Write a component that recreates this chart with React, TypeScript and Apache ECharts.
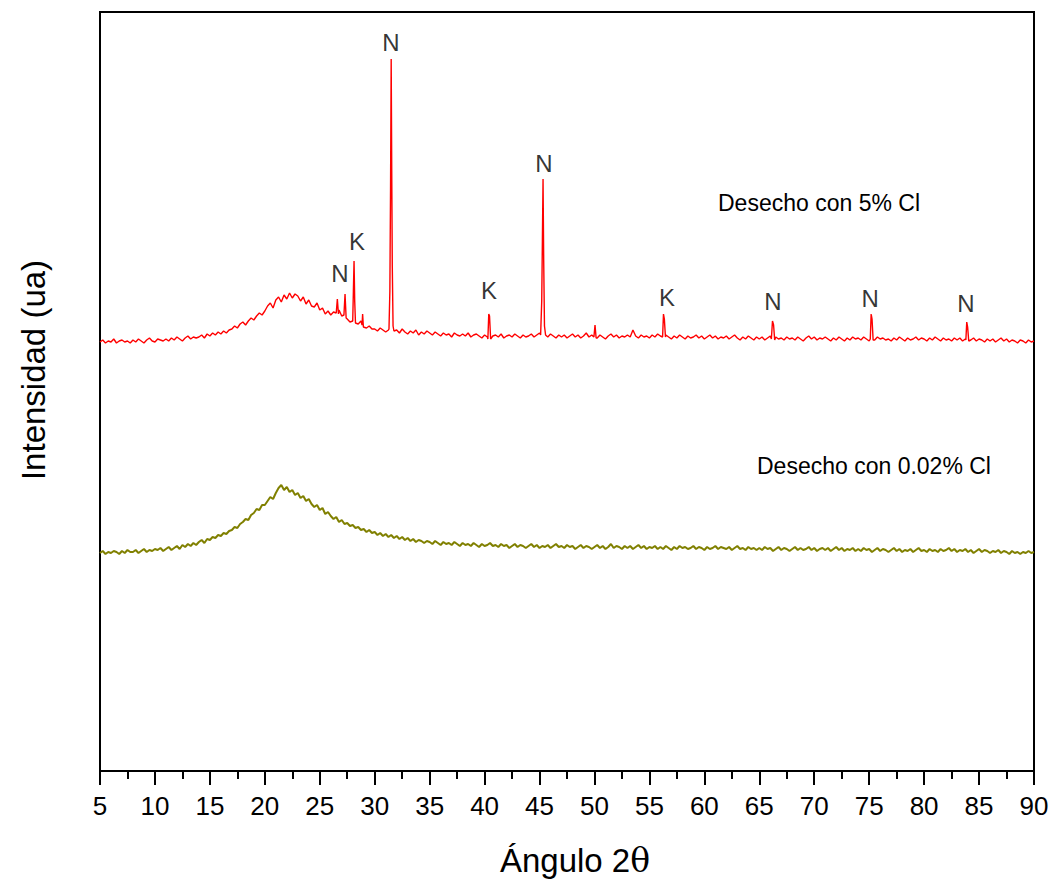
import React, { useEffect, useRef } from "react";
import * as echarts from "echarts";

// sampling grid of the traces (degrees 2θ)
const GRID_START = 5;
const GRID_STEP = 0.25;

// "Desecho con 5% Cl" – intensity (arbitrary units) on the 0.25° grid from 5° to 90°
const red5: number[] = [
  429, 431, 428, 430, 429, 432, 428, 430, 431, 429, 430, 428,
  431, 429, 432, 430, 428, 431, 433, 430, 429, 432, 431, 430,
  432, 430, 433, 431, 434, 432, 430, 433, 435, 432, 434, 433,
  434, 436, 433, 437, 435, 438, 436, 439, 437, 440, 438, 441,
  442, 445, 443, 447, 449, 446, 450, 453, 451, 455, 458, 456,
  460, 465, 468, 463, 471, 474, 469, 476, 472, 478, 473, 477,
  475, 470, 474, 467, 471, 465, 464, 468, 461, 463, 457, 460,
  456, 459, 455, 461, 455, 452, 452, 449, 448, 452, 447, 450,
  444, 443, 445, 442, 442, 440, 443, 441, 439, 441, 442, 440,
  441, 438, 442, 439, 437, 440, 438, 441, 436, 439, 437, 440,
  438, 436, 439, 437, 435, 438, 436, 437, 434, 438, 436, 435,
  437, 435, 438, 434, 436, 437, 435, 433, 436, 434, 437, 435,
  436, 434, 437, 433, 435, 436, 434, 437, 435, 433, 436, 434,
  435, 437, 434, 436, 438, 435, 436, 434, 437, 435, 433, 436,
  434, 436, 433, 435, 437, 434, 436, 433, 435, 438, 434, 436,
  435, 433, 436, 434, 432, 435, 437, 434, 436, 433, 435, 434,
  436, 434, 441, 435, 433, 436, 434, 435, 433, 436, 434, 437,
  435, 433, 436, 434, 432, 435, 433, 436, 434, 432, 435, 433,
  434, 436, 433, 435, 432, 434, 436, 433, 435, 432, 434, 433,
  435, 432, 434, 436, 433, 431, 434, 432, 435, 433, 431, 434,
  432, 434, 431, 433, 435, 432, 434, 432, 433, 431, 434, 432,
  433, 431, 434, 432, 430, 433, 435, 432, 434, 431, 433, 432,
  434, 432, 430, 433, 431, 434, 432, 430, 433, 431, 434, 432,
  433, 431, 434, 432, 430, 433, 431, 434, 432, 433, 431, 432,
  430, 433, 431, 434, 432, 430, 433, 431, 432, 434, 431, 433,
  432, 430, 433, 431, 434, 432, 430, 433, 431, 432, 430, 433,
  431, 433, 430, 432, 434, 431, 433, 430, 432, 431, 429, 432,
  430, 432, 429, 431, 433, 430, 432, 429, 431, 430, 428, 431,
  430, 428, 431, 429, 430,
];

// narrow diffraction peaks of the 5% Cl sample (angles and intensities)
const redPeakAngles: number[][] = [
  [26.5, 26.6, 26.7],
  [27.2, 27.3, 27.4],
  [28.0, 28.06, 28.12, 28.18, 28.25],
  [28.85, 28.9, 28.97],
  [31.3, 31.38, 31.44, 31.5, 31.55, 31.6, 31.67],
  [40.3, 40.38, 40.45, 40.55],
  [45.1, 45.2, 45.26, 45.32, 45.38, 45.45, 45.55],
  [49.95, 50.05, 50.15],
  [56.2, 56.28, 56.36, 56.46],
  [66.1, 66.2, 66.3, 66.4],
  [75.1, 75.18, 75.26, 75.36],
  [83.8, 83.88, 83.96, 84.06],
];
const redPeakValues: number[][] = [
  [458, 472, 457],
  [456, 477, 453],
  [450, 480, 510, 470, 448],
  [446, 457, 444],
  [442, 480, 580, 712, 600, 505, 445],
  [432, 457, 455, 432],
  [436, 470, 530, 592, 510, 445, 436],
  [434, 446, 433],
  [434, 457, 452, 434],
  [432, 450, 446, 431],
  [432, 457, 452, 431],
  [431, 449, 444, 430],
];

// "Desecho con 0.02% Cl" – intensity on the same grid
const olive002: number[] = [
  218, 220, 217, 219, 218, 220, 219, 217, 220, 218, 221, 219,
  219, 221, 218, 220, 222, 219, 221, 220, 222, 221, 223, 220,
  222, 224, 221, 223, 225, 222, 226, 224, 227, 225, 228, 226,
  229, 231, 228, 232, 231, 234, 233, 236, 235, 238, 237, 240,
  241, 244, 243, 247, 249, 252, 251, 256, 258, 262, 261, 266,
  266, 270, 274, 272, 278, 283, 286, 281, 284, 279, 281, 276,
  278, 273, 275, 270, 272, 267, 264, 266, 261, 263, 257, 259,
  255, 252, 254, 249, 251, 247, 248, 245, 246, 243, 244, 241,
  242, 239, 241, 238, 239, 236, 238, 235, 237, 234, 236, 233,
  235, 232, 234, 231, 233, 230, 232, 229, 231, 230, 228, 230,
  229, 227, 230, 228, 226, 229, 227, 228, 226, 229, 227, 225,
  228, 226, 227, 225, 228, 226, 224, 227, 225, 226, 228, 225,
  226, 224, 227, 225, 226, 223, 225, 227, 224, 226, 225, 223,
  225, 227, 224, 226, 223, 225, 224, 226, 223, 225, 227, 224,
  225, 223, 226, 224, 225, 222, 224, 226, 223, 225, 224, 222,
  224, 226, 223, 225, 222, 224, 227, 223, 225, 224, 222, 225,
  223, 225, 222, 224, 226, 223, 225, 222, 224, 223, 225, 222,
  224, 222, 225, 223, 221, 224, 222, 225, 223, 224, 222, 223,
  225, 222, 224, 223, 221, 224, 222, 223, 225, 222, 224, 223,
  222, 224, 221, 223, 225, 222, 223, 221, 224, 222, 223, 221,
  223, 221, 224, 222, 223, 220, 222, 224, 221, 223, 222, 220,
  222, 224, 221, 223, 221, 222, 224, 221, 223, 220, 222, 223,
  221, 223, 220, 222, 224, 221, 223, 220, 222, 221, 223, 220,
  222, 220, 223, 221, 222, 219, 221, 223, 220, 222, 221, 219,
  221, 223, 220, 222, 219, 221, 220, 222, 219, 221, 223, 220,
  221, 219, 222, 220, 221, 219, 222, 220, 221, 223, 220, 222,
  219, 221, 220, 222, 219, 221, 218, 220, 222, 219, 221, 220,
  218, 220, 219, 221, 218, 220, 219, 217, 220, 218, 219, 217,
  219, 218, 220, 218, 219,
];

// phase labels (N / K) placed above the peaks
const phaseLabels: string[] = ["N", "K", "N", "K", "N", "K", "N", "N", "N"];
const phaseLabelAngles: number[] = [26.84, 28.39, 31.48, 40.4, 45.41, 56.6, 66.25, 75.08, 83.81];
const phaseLabelValues: number[] = [498, 530, 729, 481, 608, 474, 470, 473, 468];

const xTicks = { min: 5, max: 90, interval: 5 };
const sampleNames: string[] = ["Desecho con 5% Cl", "Desecho con 0.02% Cl"];

const FONT = "'Liberation Sans', Arial, sans-serif";

function gridPoints(values: number[]): [number, number][] {
  return values.map((v, i) => [GRID_START + i * GRID_STEP, v]);
}

function withPeaks(values: number[], angles: number[][], peaks: number[][]): [number, number][] {
  const base = gridPoints(values).filter(
    ([a]) => !angles.some((g) => a >= g[0] - 0.001 && a <= g[g.length - 1] + 0.001)
  );
  const extra: [number, number][] = [];
  angles.forEach((g, gi) => g.forEach((a, ai) => extra.push([a, peaks[gi][ai]])));
  return base.concat(extra).sort((p, q) => p[0] - q[0]);
}

export default function App() {
  const ref = useRef<HTMLDivElement>(null);
  useEffect(() => {
    if (!ref.current) return;
    const chart = echarts.init(ref.current, undefined, { renderer: "svg" });
    chart.setOption({
      animation: false,
      backgroundColor: "#ffffff",
      grid: { left: 100, right: 21, top: 12, bottom: 110, show: true, borderColor: "#000", borderWidth: 2 },
      xAxis: {
        type: "value",
        min: xTicks.min,
        max: xTicks.max,
        interval: xTicks.interval,
        axisLine: { show: true, onZero: false, lineStyle: { color: "#000", width: 2 } },
        axisTick: { show: true, inside: false, length: 14, lineStyle: { color: "#000", width: 2 } },
        minorTick: { show: true, splitNumber: 2, length: 8, lineStyle: { color: "#000", width: 2 } },
        splitLine: { show: false },
        minorSplitLine: { show: false },
        axisLabel: { fontSize: 26, color: "#000", margin: 22, fontFamily: FONT },
      },
      yAxis: {
        type: "value",
        min: 0,
        max: 759,
        axisLine: { show: true, lineStyle: { color: "#000", width: 2 } },
        axisTick: { show: false },
        axisLabel: { show: false },
        splitLine: { show: false },
      },
      graphic: [
        {
          type: "text",
          x: 33,
          y: 370,
          rotation: Math.PI / 2,
          style: { text: "Intensidad (ua)", fontSize: 33, fontFamily: FONT, fill: "#000", align: "center", verticalAlign: "middle" },
        },
        {
          type: "text",
          x: 575,
          y: 860,
          style: {
            text: "{a|Ángulo 2}{b|θ}",
            align: "center",
            verticalAlign: "middle",
            rich: {
              a: { fontSize: 33, fontFamily: FONT, fill: "#000" },
              b: { fontSize: 33, fontFamily: "'DejaVu Serif', serif", fill: "#000" },
            },
          },
        },
        {
          type: "text",
          x: 718,
          y: 203,
          style: { text: sampleNames[0], fontSize: 23, fontFamily: FONT, fill: "#000", align: "left", verticalAlign: "middle" },
        },
        {
          type: "text",
          x: 757,
          y: 466,
          style: { text: sampleNames[1], fontSize: 23, fontFamily: FONT, fill: "#000", align: "left", verticalAlign: "middle" },
        },
      ],
      series: [
        {
          name: sampleNames[1],
          type: "line",
          data: gridPoints(olive002),
          showSymbol: false,
          silent: true,
          lineStyle: { color: "#808000", width: 2 },
          z: 2,
        },
        {
          name: sampleNames[0],
          type: "line",
          data: withPeaks(red5, redPeakAngles, redPeakValues),
          showSymbol: false,
          silent: true,
          lineStyle: { color: "#ff0000", width: 1.4 },
          z: 3,
        },
        {
          type: "scatter",
          data: phaseLabels.map((t, i) => [phaseLabelAngles[i], phaseLabelValues[i], t]),
          symbolSize: 1,
          itemStyle: { color: "rgba(0,0,0,0)" },
          silent: true,
          label: {
            show: true,
            position: "inside",
            formatter: (p: any) => p.data[2],
            fontSize: 24,
            fontFamily: FONT,
            color: "#000",
          },
          z: 4,
        },
      ],
    });
    return () => chart.dispose();
  }, []);
  return <div ref={ref} style={{ position: "fixed", left: 0, top: 0, width: 1055, height: 881, background: "#fff" }} />;
}
